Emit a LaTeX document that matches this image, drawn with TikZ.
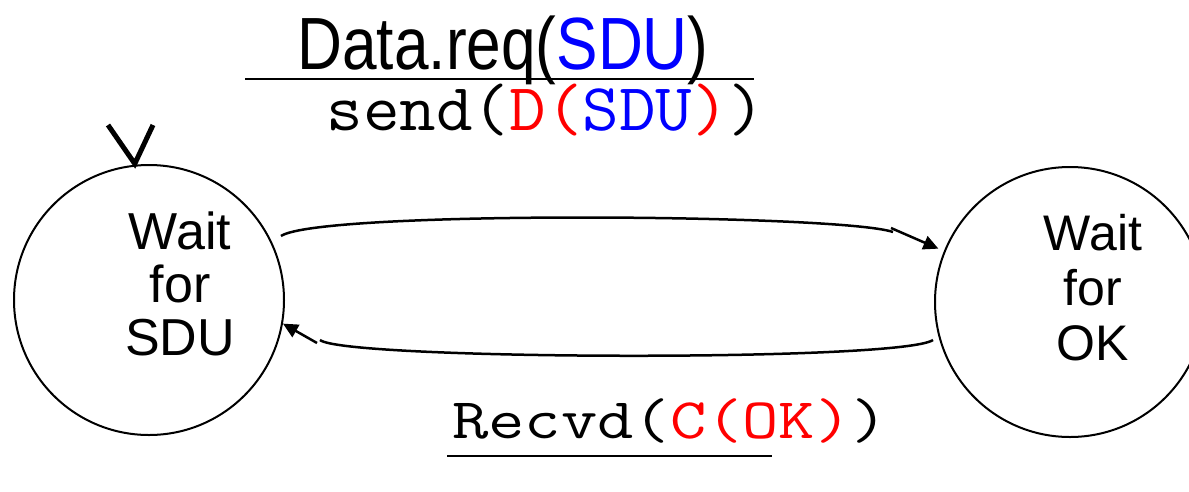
\documentclass[tikz,border=0pt]{standalone}
\usepackage{fontspec}
\setmainfont{Liberation Sans}
\usetikzlibrary{arrows.meta}
\definecolor{sdublue}{RGB}{0,0,255}
\definecolor{pdured}{RGB}{255,0,0}
\begin{document}
\begin{tikzpicture}[x=1pt,y=-1pt,
  state/.style={circle,draw,line width=2pt,inner sep=0pt,minimum size=270pt},
  statetext/.style={align=center,inner sep=0pt,font=\fontsize{52}{53}\selectfont},
  edge/.style={line width=2.5pt},
  tip/.style={-{Triangle[length=15pt,width=14pt]}},
  initmark/.style={line width=5pt},
  plain/.style={inner sep=0pt,anchor=base}]
\useasboundingbox (0,0) rectangle (1189,491);

% the two states
\node[state] (L) at (149,300) {};
\node[state] (R) at (1070,302) {};
% base anchor of a multi-line node sits on its last line
\node[statetext,anchor=base] (Ltxt) at (180,355) {Wait\\for\\SDU};
\node[statetext,anchor=base,font=\fontsize{50}{55}\selectfont] (Rtxt) at (1093,360) {Wait\\for\\OK};

% initial-state mark
\coordinate (i1) at (108,125);
\coordinate (i2) at (153,125);
\draw[initmark] (i1) -- ([yshift=1pt]L.96) -- (i2);

% upper transition
\coordinate (a1) at (281,236);
\coordinate (a2) at (893,232);
\coordinate (a3) at (891,228);
\draw[edge] (a1) .. controls (320,210) and (840,214) .. (a2);
\draw[edge,tip,shorten >=6pt] (a3) -- (R.158);

% lower transition
\coordinate (b1) at (933,340);
\coordinate (b2) at (320,340);
\coordinate (b3) at (317,343);
\draw[edge] (b1) .. controls (900,362) and (345,360) .. (b2);
\draw[edge,tip] (b3) -- (L.-10);

% label of the upper transition
\node[plain] (evt) at (503,69)
  {\fontsize{74}{74}\selectfont\scalebox{0.84}[1]{Data.req(\textcolor{sdublue}{SDU})}};
\coordinate (s1) at (245,79);
\coordinate (s2) at (754,79);
\draw[line width=2.5pt] (s1) -- (s2);
\node[plain] (act) at (546,130)
  {\ttfamily\fontsize{67}{67}\selectfont\scalebox{1.06}[1]{send(\textcolor{pdured}{D(}\textcolor{sdublue}{SDU}\textcolor{pdured}{)})}};

% label of the lower transition
\node[plain] (rcv) at (670,438)
  {\ttfamily\fontsize{57.3}{58}\selectfont\scalebox{1.23}[1]{Recvd(\textcolor{pdured}{C(OK)})}};
\coordinate (u1) at (447,456);
\coordinate (u2) at (772,456);
\draw[line width=2.5pt] (u1) -- (u2);
\end{tikzpicture}
\end{document}
